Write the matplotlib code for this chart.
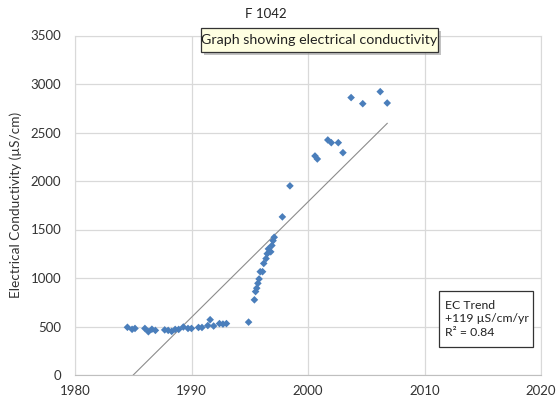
import matplotlib.pyplot as plt
from matplotlib.patches import FancyBboxPatch
import numpy as np

plt.rcParams['font.family'] = ['Lato', 'DejaVu Sans']

# EC samples, borehole F 1042
years = [1984.5, 1984.9, 1985.15, 1986.0, 1986.3, 1986.6, 1986.9, 1987.7, 1988.0,
         1988.3, 1988.6, 1988.9, 1989.3, 1989.7, 1990.0, 1990.6, 1990.9, 1991.4,
         1991.6, 1991.9, 1992.4, 1992.7, 1993.0, 1994.9, 1995.4, 1995.5, 1995.6,
         1995.7, 1995.8, 1995.9, 1996.1, 1996.2, 1996.4, 1996.5, 1996.6, 1996.8,
         1996.9, 1997.0, 1997.1, 1997.8, 1998.45, 2000.6, 2000.8, 2001.7, 2002.0,
         2002.6, 2003.0, 2003.7, 2004.7, 2006.2, 2006.8]
ec = [492, 471, 480, 480, 446, 472, 460, 465, 460,
      450, 470, 470, 495, 480, 480, 490, 490, 510,
      570, 505, 530, 525, 530, 545, 775, 860, 895,
      945, 990, 1065, 1065, 1150, 1200, 1250, 1300, 1270,
      1335, 1385, 1420, 1630, 1950, 2258, 2227, 2423, 2395,
      2395, 2292, 2860, 2797, 2921, 2804]

trend_slope = 119      # uS/cm per year
trend_zero_year = 1985.0
r_squared = 0.84

x_ticks = [1980, 1990, 2000, 2010, 2020]
y_ticks = [0, 500, 1000, 1500, 2000, 2500, 3000, 3500]

W, H = 558, 399
fig = plt.figure(figsize=(W / 100, H / 100), dpi=100)
ax = fig.add_axes([75 / W, 1 - 375 / H, (541 - 75) / W, (375 - 35.5) / H])

grid_col = '#d9d9d9'
ax.set_xlim(1980, 2020)
ax.set_ylim(0, 3500)
ax.set_xticks(x_ticks)
ax.set_yticks(y_ticks)
ax.grid(True, color=grid_col, lw=0.9)
ax.set_axisbelow(True)
for s in ax.spines.values():
    s.set_color(grid_col)
ax.spines['bottom'].set_color('#bfbfbf')
ax.tick_params(length=0, labelsize=9.5, colors='#333333')
ax.tick_params(axis='x', pad=7)
ax.tick_params(axis='y', pad=10)

# linear trend across the sampled range
tx = np.array([years[0], years[-1]])
ax.plot(tx, trend_slope * (tx - trend_zero_year), color='#8c8c8c', lw=0.8, zorder=2)

ax.scatter(years, ec, marker='D', s=15, color='#4a7ebb', edgecolors='none', zorder=3)

ax.set_ylabel('Electrical Conductivity (\u00b5S/cm)', fontsize=9.8, color='#333333', labelpad=6)

fig.text(266 / W, 1 - 14 / H, 'F 1042', ha='center', va='center', fontsize=9.5, color='#222222')

# tooltip-style caption
fig.patches.append(FancyBboxPatch((204 / W, 1 - 55 / H), 237 / W, 24 / H,
                                  boxstyle='square,pad=0', transform=fig.transFigure,
                                  facecolor='#9a9a9a', edgecolor='none', alpha=0.6, zorder=4))
fig.patches.append(FancyBboxPatch((201 / W, 1 - 52 / H), 237 / W, 24 / H,
                                  boxstyle='square,pad=0', transform=fig.transFigure,
                                  facecolor='#ffffe1', edgecolor='#333333', lw=0.9, zorder=5))
fig.text(319.5 / W, 1 - 40 / H, 'Graph showing electrical conductivity', ha='center',
         va='center', fontsize=10.3, color='#222222', zorder=6)

# trend summary box
fig.patches.append(FancyBboxPatch((439 / W, 1 - 347 / H), 94 / W, 56 / H,
                                  boxstyle='square,pad=0', transform=fig.transFigure,
                                  facecolor='white', edgecolor='#333333', lw=0.9, zorder=5))
fig.text(445 / W, 1 - 319 / H, 'EC Trend\n+%d \u00b5S/cm/yr\nR\u00b2 = %.2f' % (trend_slope, r_squared),
         ha='left', va='center', fontsize=8.8, color='#222222', linespacing=1.25, zorder=6)

fig.savefig('out.png', dpi=100)
